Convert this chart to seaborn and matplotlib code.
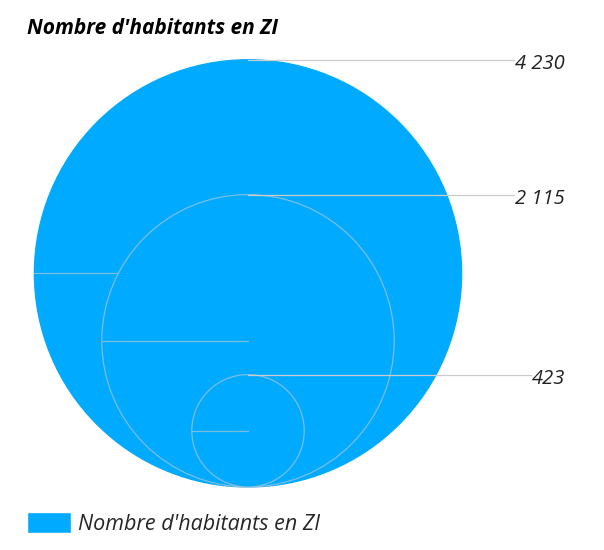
import numpy as np
import matplotlib
matplotlib.use("Agg")
import matplotlib.pyplot as plt
from matplotlib.patches import Circle, Patch
import seaborn as sns

# Données
titre = "Nombre d'habitants en ZI"
valeurs = [4230, 2115, 423]
etiquettes = ["4 230", "2 115", "423"]
couleur = "#00AAFF"

sns.set_style("white")
plt.rcParams['font.family'] = ['Open Sans', 'DejaVu Sans']

# Echelle des rayons (pixels) en racine carrée
def rayon(v):
    return 3.54 * np.sqrt(v) - 16.6

fig = plt.figure(figsize=(6.04, 5.5), dpi=100)
ax = fig.add_axes([0, 0, 1, 1])
ax.set_xlim(0, 604)
ax.set_ylim(550, 0)
ax.axis('off')

cx, bas = 248, 487
gris = (0.8, 0.8, 0.8, 0.6)

for i, v in enumerate(valeurs):
    r = rayon(v)
    cy = bas - r
    ax.add_patch(Circle((cx, cy), r, facecolor=couleur,
                        edgecolor=gris if i > 0 else couleur, lw=0.9, zorder=2 + i))
    ax.plot([cx - r, cx], [cy, cy], color=gris, lw=0.9, zorder=2 + i)

# Etiquettes et lignes de rappel
fig.canvas.draw()
rend = fig.canvas.get_renderer()
for v, lab in zip(valeurs, etiquettes):
    top = bas - 2 * rayon(v)
    t = ax.text(565, top + 4, lab, ha='right', va='center', fontsize=14.5,
                style='italic', color='#222222', zorder=10)
    bb = t.get_window_extent(rend)
    x_fin = bb.x0 - 1
    ax.plot([cx, x_fin], [top, top], color=(0.8, 0.8, 0.8), lw=0.9, zorder=9)

ax.text(27, 28, titre, ha='left', va='center', fontsize=15,
        fontweight='bold', style='italic', color='black')

leg = fig.legend(handles=[Patch(facecolor=couleur, label=titre)],
                 loc='lower left', bbox_to_anchor=(27 / 604, 15 / 550),
                 frameon=False, borderpad=0, borderaxespad=0,
                 handlelength=2.05, handleheight=1.12, handletextpad=0.3,
                 prop={'size': 15.5, 'style': 'italic', 'family': ['Open Sans', 'DejaVu Sans']})

fig.savefig("out.png", dpi=100)
